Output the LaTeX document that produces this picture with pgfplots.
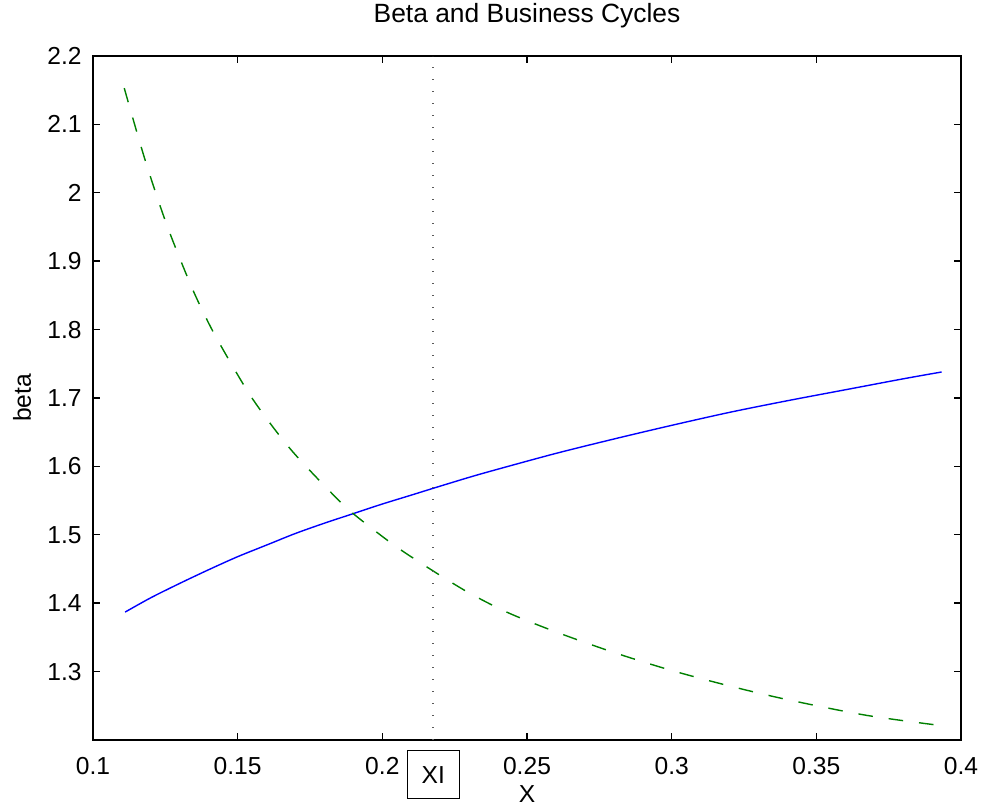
\documentclass[border=0pt]{standalone}
\usepackage{pgfplots}
\pgfplotsset{compat=1.18}
\usepackage{fontspec}
\setmainfont{Liberation Sans}
\definecolor{mblue}{rgb}{0,0,1}
\definecolor{mgreen}{rgb}{0,0.5,0}
\begin{document}
\begin{tikzpicture}
\begin{axis}[
  scale only axis,
  width=434pt, height=342pt,
  xmin=0.1, xmax=0.4, ymin=1.2, ymax=2.2,
  axis line style={line width=0.9pt, black},
  tick style={line width=0.7pt, black},
  tick align=inside,
  major tick length=3.5pt,
  xtick pos=both, ytick pos=both,
  xtick={0.1,0.15,0.2,0.25,0.3,0.35,0.4},
  xticklabels={0.1,0.15,0.2,0.25,0.3,0.35,0.4},
  ytick={1.3,1.4,1.5,1.6,1.7,1.8,1.9,2.0,2.1,2.2},
  yticklabels={1.3,1.4,1.5,1.6,1.7,1.8,1.9,2,2.1,2.2},
  ticklabel style={font=\fontsize{12.3}{14}\selectfont},
  xticklabel style={anchor=north, inner sep=0pt, yshift=-8.5pt},
  yticklabel style={anchor=east, inner sep=0pt, xshift=-5.5pt},
  title={Beta and Business Cycles},
  title style={font=\fontsize{13.2}{15}\selectfont, anchor=base, at={(axis description cs:0.5,1)}, yshift=10.5pt, inner sep=0pt},
  xlabel={X},
  xlabel style={font=\fontsize{12.3}{14}\selectfont, anchor=north, at={(axis description cs:0.5,0)}, yshift=-22.5pt, inner sep=0pt},
  ylabel={beta},
  ylabel style={font=\fontsize{12.3}{14}\selectfont, anchor=center, at={(axis description cs:-0.0818,0.5)}, inner sep=0pt},
  clip=false,
]
\addplot[mblue, line width=0.7pt, smooth] coordinates {
(0.1111,1.387) (0.12,1.408) (0.13,1.429) (0.14,1.449) (0.15,1.468) (0.16,1.485)
(0.17,1.502) (0.18,1.517) (0.19,1.531) (0.20,1.545) (0.21,1.558) (0.2176,1.568)
(0.23,1.584) (0.24,1.596) (0.26,1.619) (0.28,1.640) (0.30,1.660) (0.32,1.679)
(0.34,1.696) (0.36,1.712) (0.38,1.728) (0.3933,1.738)
};
\addplot[mgreen, line width=0.7pt, dash pattern=on 7.3pt off 8pt, smooth] coordinates {
(0.1108,2.153) (0.118,2.048) (0.1255,1.953) (0.1335,1.868) (0.1385,1.822)
(0.1437,1.780) (0.1551,1.699) (0.1683,1.625) (0.1836,1.556) (0.1902,1.530)
(0.2040,1.485) (0.2176,1.447) (0.2300,1.415) (0.2435,1.386) (0.2600,1.358)
(0.2800,1.328) (0.2997,1.302) (0.3200,1.279) (0.3400,1.259) (0.3674,1.236)
(0.3933,1.221)
};
\addplot[black!65, line width=0.8pt, dash pattern=on 0.6pt off 5.4pt] coordinates {(0.2176,1.2) (0.2176,2.2)};
\node[draw=black, line width=0.5pt, minimum width=26pt, minimum height=24pt, inner sep=0pt, font=\fontsize{12.3}{14}\selectfont, yshift=-17.5pt] at (axis cs:0.2176,1.2) {XI};
\coordinate (BBA) at (rel axis cs:-0.10714,-0.09649);
\coordinate (BBB) at (rel axis cs:1.02419,1.08187);
\end{axis}
\pgfresetboundingbox
\path (BBA) rectangle (BBB);
\end{tikzpicture}
\end{document}
